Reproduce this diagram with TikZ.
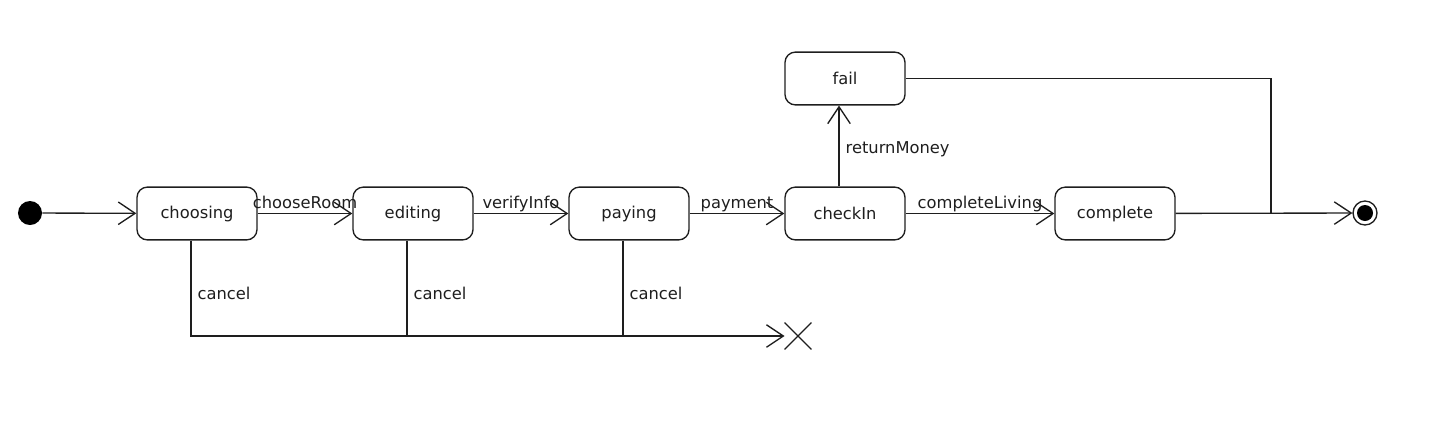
\documentclass[tikz,border=0pt]{standalone}
\usepackage{fontspec}
\setmainfont{DejaVu Sans}
\usetikzlibrary{arrows.meta,positioning,shapes.misc}
\definecolor{ink}{HTML}{1E1E1E}

\tikzset{
  state/.style={draw=ink,line width=0.95pt,rounded corners=0.26cm,minimum width=3cm,minimum height=1.32cm,inner sep=0pt,text=ink},
  wire/.style={draw=ink,line width=0.95pt},
  trans/.style={wire,-{Straight Barb[length=12pt,width=16pt,line width=0.95pt]}},
  lbl/.style={font=\fontsize{11.6}{13}\selectfont,text=ink,inner sep=0pt},
}

\begin{document}
\begin{tikzpicture}[x=0.025cm,y=-0.025cm,font=\fontsize{11.6}{13}\selectfont]
  \useasboundingbox (0,0) rectangle (1444,428);

  % Pseudo states
  \node[circle,fill=black,minimum size=0.6cm,inner sep=0pt] (start) at (30,213) {};
  \node[circle,draw=ink,line width=0.95pt,minimum size=0.6cm,inner sep=0pt] (final) at (1365,213) {};
  \fill[black] (final.center) circle (0.2cm);
  \node[cross out,draw=ink,line width=0.95pt,minimum size=0.64cm,inner sep=0pt] (term) at (798,336) {};

  % States
  \node[state] (choosing) at (197,213.5) {choosing};
  \node[state] (editing)  at (413,213.5) {editing};
  \node[state] (paying)   at (629,213.5) {paying};
  \node[state] (checkIn)  at (845,213.5) {checkIn};
  \node[state] (complete) at (1115,213.5) {complete};
  \node[state] (fail)     at (845,78.5) {fail};
  \coordinate (merge) at (1271,213);

  % Main flow
  \draw[trans] (start) -- (choosing);
  \draw[trans] (choosing) -- node[lbl,anchor=base,yshift=3.6pt]{chooseRoom} (editing);
  \draw[trans] (editing) -- node[lbl,anchor=base,yshift=3.6pt]{verifyInfo} (paying);
  \draw[trans] (paying) -- node[lbl,anchor=base,yshift=3.6pt]{payment} (checkIn);
  \draw[trans] (checkIn) -- node[lbl,anchor=base,yshift=3.6pt]{completeLiving} (complete);
  \draw[trans] (complete) -- (final);
  \draw[trans] ([xshift=-0.15cm]checkIn.north) -- node[lbl,anchor=west,xshift=0.15cm,yshift=-2pt]{returnMoney} ([xshift=-0.15cm]fail.south);
  \draw[wire] (fail.east) -| (merge);

  % Cancel
  \draw[trans] ([xshift=-0.15cm]choosing.south) |- node[lbl,pos=0.275,anchor=west,xshift=0.15cm]{cancel} (term.west);
  \draw[wire] ([xshift=-0.15cm]editing.south) -- node[lbl,pos=0.55,anchor=west,xshift=0.15cm]{cancel} ([xshift=-0.15cm]editing.south |- term);
  \draw[wire] ([xshift=-0.15cm]paying.south) -- node[lbl,pos=0.55,anchor=west,xshift=0.15cm]{cancel} ([xshift=-0.15cm]paying.south |- term);
\end{tikzpicture}
\end{document}
